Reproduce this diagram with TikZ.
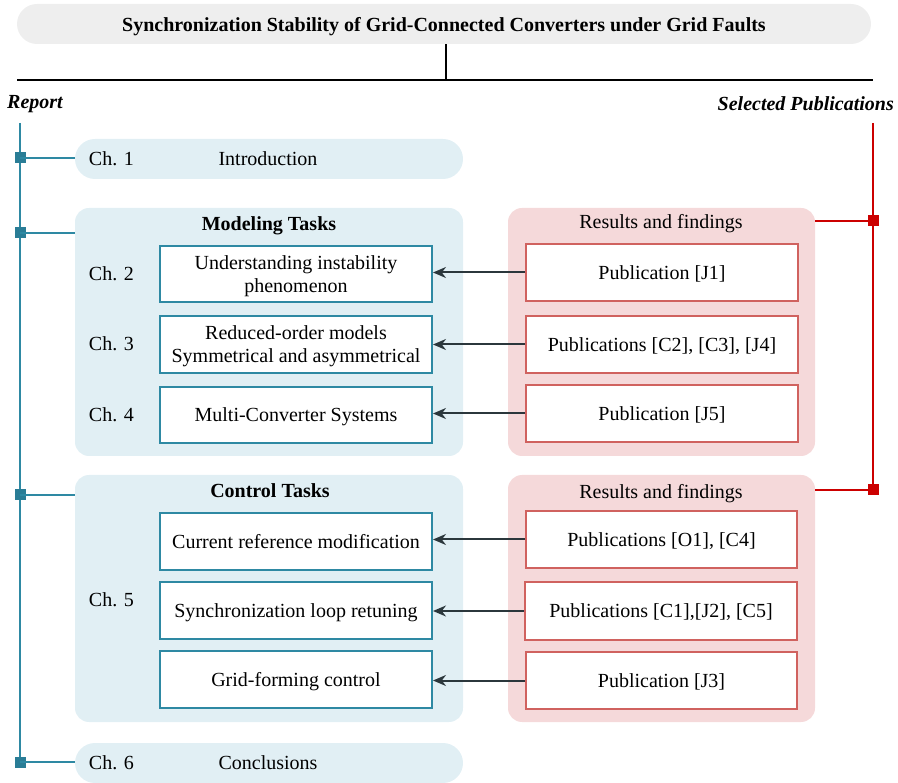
\documentclass[tikz,border=0pt]{standalone}
\usepackage{fontspec}
\setmainfont{Liberation Serif}
\usetikzlibrary{arrows.meta}
\definecolor{spineblue}{HTML}{2E89A3}
\definecolor{spinebluedark}{HTML}{2A7D96}
\definecolor{paleblue}{HTML}{E1EFF4}
\definecolor{palepink}{HTML}{F5D9DA}
\definecolor{pubred}{HTML}{D0625F}
\definecolor{linered}{HTML}{CC0000}
\definecolor{titlegray}{HTML}{EEEEEE}
\definecolor{arrowdark}{HTML}{2B373C}
\newcommand\bodysize{\fontsize{20}{23}\selectfont}
\tikzset{
  txt/.style={font=\bodysize, inner sep=0pt, text depth=0pt},
  pill/.style={fill=paleblue, rounded corners=20pt, draw=none},
  group/.style={fill=paleblue, rounded corners=14pt, draw=none},
  pgroup/.style={fill=palepink, rounded corners=14pt, draw=none},
  taskbox/.style={draw=spineblue, line width=2pt, fill=white, txt, align=center},
  pubbox/.style={draw=pubred, line width=1.6pt, fill=white, txt, align=center},
  feed/.style={draw=arrowdark, line width=2pt, -{Stealth[length=13pt,width=11pt]}},
  bluebranch/.style={draw=spineblue, line width=2pt},
  redbranch/.style={draw=linered, line width=2pt},
  bluesq/.style={fill=spinebluedark, minimum size=11pt, inner sep=0pt},
  redsq/.style={fill=linered, minimum size=11pt, inner sep=0pt},
}
\begin{document}
\begin{tikzpicture}[x=1pt, y=-1pt]
\useasboundingbox (0,0) rectangle (898,783);
\clip (0,0) rectangle (898,783);

% title and top rule
\node[fill=titlegray, rounded corners=20pt, minimum width=854pt, minimum height=40pt,
      inner sep=0pt, text depth=0pt, font=\bodysize\bfseries]
  (title) at (444,24) {Synchronization Stability of Grid-Connected Converters under Grid Faults};
\coordinate (ruleL) at (17,80);
\coordinate (ruleR) at (873,80);
\coordinate (ruleM) at (446,80);
\draw[line width=2pt] (ruleL) -- (ruleR);
\draw[line width=1.5pt] (title.south -| ruleM) -- (ruleM);

\node[txt, font=\bodysize\bfseries\itshape, anchor=west] (report) at (7,102) {Report};
\node[txt, font=\bodysize\bfseries\itshape, anchor=east] (selpub) at (894,104) {Selected Publications};

% left column: chapters
\node[pill, minimum width=388pt, minimum height=40pt, inner sep=0pt] (ch1) at (269,159) {};
\node[txt] (ch1lab) at (111.5,159) {Ch. 1};
\node[txt] (intro) at (268,159) {Introduction};

\node[group, minimum width=388pt, minimum height=248pt, inner sep=0pt] (model) at (269,332) {};
\node[txt, font=\bodysize\bfseries] (modtitle) at (269,224) {Modeling Tasks};

\node[taskbox, minimum width=272pt, minimum height=56pt] (t1) at (296,274) {Understanding instability\\phenomenon};
\node[taskbox, minimum width=272pt, minimum height=57pt] (t2) at (296,344.5) {Reduced-order models\\Symmetrical and asymmetrical};
\node[taskbox, minimum width=272pt, minimum height=56pt] (t3) at (296,415) {Multi-Converter Systems};
\node[txt] (ch2) at (111.5,274) {Ch. 2};
\node[txt] (ch3) at (111.5,344) {Ch. 3};
\node[txt] (ch4) at (111.5,415) {Ch. 4};

\node[group, minimum width=388pt, minimum height=247pt, inner sep=0pt] (control) at (269,598.5) {};
\node[txt, font=\bodysize\bfseries] (ctltitle) at (270,491) {Control Tasks};
\node[taskbox, minimum width=272pt, minimum height=57pt] (t4) at (296,541.5) {Current reference modification};
\node[taskbox, minimum width=272pt, minimum height=57pt] (t5) at (296,610.5) {Synchronization loop retuning};
\node[taskbox, minimum width=272pt, minimum height=57pt] (t6) at (296,679.5) {Grid-forming control};
\node[txt] (ch5) at (111.5,600) {Ch. 5};

\node[pill, minimum width=388pt, minimum height=40pt, inner sep=0pt] (ch6) at (269,763) {};
\node[txt] (ch6lab) at (111.5,763) {Ch. 6};
\node[txt] (concl) at (268,763) {Conclusions};

% right column: publications
\node[pgroup, minimum width=307pt, minimum height=248pt, inner sep=0pt] (res1) at (661.5,332) {};
\node[txt] (res1title) at (661,221) {Results and findings};
\node[pubbox, minimum width=272pt, minimum height=57pt] (p1) at (662,272.5) {Publication [J1]};
\node[pubbox, minimum width=272pt, minimum height=57pt] (p2) at (662,344.5) {Publications [C2], [C3], [J4]};
\node[pubbox, minimum width=272pt, minimum height=57pt] (p3) at (662,413.5) {Publication [J5]};

\node[pgroup, minimum width=307pt, minimum height=247pt, inner sep=0pt] (res2) at (661.5,598.5) {};
\node[txt] (res2title) at (661,491) {Results and findings};
\node[pubbox, minimum width=271pt, minimum height=57pt] (p4) at (661.5,539.5) {Publications [O1], [C4]};
\node[pubbox, minimum width=272pt, minimum height=58pt] (p5) at (661,611) {Publications [C1],[J2], [C5]};
\node[pubbox, minimum width=271pt, minimum height=57pt] (p6) at (661.5,680.5) {Publication [J3]};

% feedback arrows
\draw[feed] (p1.west) -- (p1.west -| t1.east);
\draw[feed] (p2.west) -- (p2.west -| t2.east);
\draw[feed] (p3.west) -- (p3.west -| t3.east);
\draw[feed] (p4.west) -- (p4.west -| t4.east);
\draw[feed] (p5.west) -- (p5.west -| t5.east);
\draw[feed] (p6.west) -- (p6.west -| t6.east);

% report spine
\coordinate (bTop) at (20,123);
\coordinate (bEnd) at (20,762);
\draw[bluebranch] (bTop) -- (bEnd);
\node[bluesq] (s1) at (20,158) {};
\node[bluesq] (s2) at (20,233) {};
\node[bluesq] (s3) at (20,495) {};
\node[bluesq] (s4) at (20,762) {};
\draw[bluebranch] (s1.center) -- (s1.center -| ch1.west);
\draw[bluebranch] (s2.center) -- (s2.center -| model.west);
\draw[bluebranch] (s3.center) -- (s3.center -| control.west);
\draw[bluebranch] (s4.center) -- (s4.center -| ch6.west);

% publications spine
\coordinate (rTop) at (873,123);
\coordinate (rEnd) at (873,490);
\draw[redbranch] (rTop) -- (rEnd);
\node[redsq] (r1) at (873,221) {};
\node[redsq] (r2) at (873,490) {};
\draw[redbranch] (r1.center) -- (r1.center -| res1.east);
\draw[redbranch] (r2.center) -- (r2.center -| res2.east);
\end{tikzpicture}
\end{document}
